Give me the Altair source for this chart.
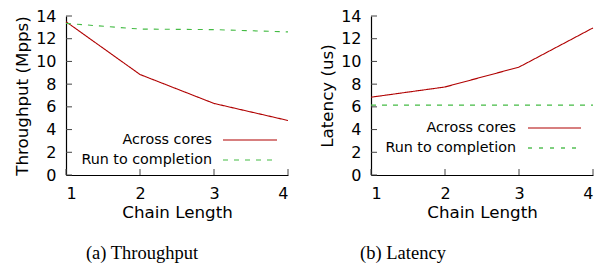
import altair as alt
import pandas as pd

chain = [1, 2, 3, 4]
series = ["Across cores", "Run to completion"]
thr_across = [13.5, 8.85, 6.3, 4.8]
thr_rtc = [13.35, 12.85, 12.8, 12.6]
lat_across = [6.85, 7.75, 9.5, 12.95]
lat_rtc = [6.15, 6.15, 6.15, 6.15]
y_ticks = [0, 2, 4, 6, 8, 10, 12, 14]

W, H = 222, 159
FONT = "DejaVu Sans"


def panel(a, r, ytitle, caption, green, dash, leg_text_x, leg_y, leg_line, cap_x):
    df = pd.DataFrame({
        "chain": chain * 2,
        "value": a + r,
        "series": [series[0]] * 4 + [series[1]] * 4,
    })
    x = alt.X("chain:Q", scale=alt.Scale(domain=[1, 4], nice=False),
              axis=alt.Axis(values=chain, format="d", title="Chain Length",
                            ticks=False, grid=False, domainColor="black",
                            labelPadding=10, titlePadding=3))
    y = alt.Y("value:Q", scale=alt.Scale(domain=[0, 14], nice=False),
              axis=alt.Axis(values=y_ticks, title=ytitle, ticks=False, grid=False,
                            domainColor="black", labelPadding=10, titlePadding=4))
    lines = alt.Chart(df).mark_line(strokeWidth=1.1).encode(
        x=x, y=y,
        color=alt.Color("series:N", scale=alt.Scale(domain=series, range=["#b00000", green]), legend=None),
        strokeDash=alt.StrokeDash("series:N", scale=alt.Scale(domain=series, range=[[1, 0], dash]), legend=None),
    )
    yt = alt.Chart(pd.DataFrame({"value": y_ticks})).mark_rule(color="#444", strokeWidth=1).encode(
        y=y, x=alt.value(0), x2=alt.value(6))
    xt = alt.Chart(pd.DataFrame({"chain": chain})).mark_rule(color="#444", strokeWidth=1).encode(
        x=x, y=alt.value(H), y2=alt.value(H - 6))
    layers = [lines, yt, xt]
    for i, s in enumerate(series):
        ld = pd.DataFrame({"label": [s]})
        layers.append(alt.Chart(ld).mark_text(align="right", baseline="middle", font=FONT, fontSize=14.3, color="black").encode(
            text="label:N", x=alt.value(leg_text_x), y=alt.value(leg_y[i])))
        col = "#b00000" if i == 0 else green
        rule = alt.Chart(ld).mark_rule(color=col, strokeWidth=1.2, strokeDash=[1, 0] if i == 0 else dash)
        layers.append(rule.encode(x=alt.value(leg_line[0]), x2=alt.value(leg_line[1] if i == 0 else leg_line[2]),
                                  y=alt.value(leg_y[i])))
    layers.append(alt.Chart(pd.DataFrame({"c": [caption]})).mark_text(
        align="center", baseline="alphabetic", font="Liberation Serif", fontSize=18.5, color="black").encode(
        text="c:N", x=alt.value(cap_x), y=alt.value(243)))
    return alt.layer(*layers).properties(width=W, height=H)


left = panel(thr_across, thr_rtc, "Throughput (Mpps)", "(a) Throughput", "#44bb44", [5, 6],
             146, [124, 144], [157, 211, 207], 76)
right = panel(lat_across, lat_rtc, "Latency (us)", "(b) Latency", "#00a000", [4, 7],
              145, [112, 132], [157, 210, 207], 32)

chart = alt.hconcat(left, right, spacing=28).properties(
    padding={"left": 6, "top": 0, "right": 0, "bottom": 0}
).configure_view(stroke=None).configure_axis(
    labelFont=FONT, titleFont=FONT, labelFontSize=16, titleFontSize=16.7,
    titleFontWeight="normal", labelColor="black", titleColor="black",
    domainWidth=1.2
)

chart.save("out.html", embed_options={"renderer": "svg", "actions": False})
